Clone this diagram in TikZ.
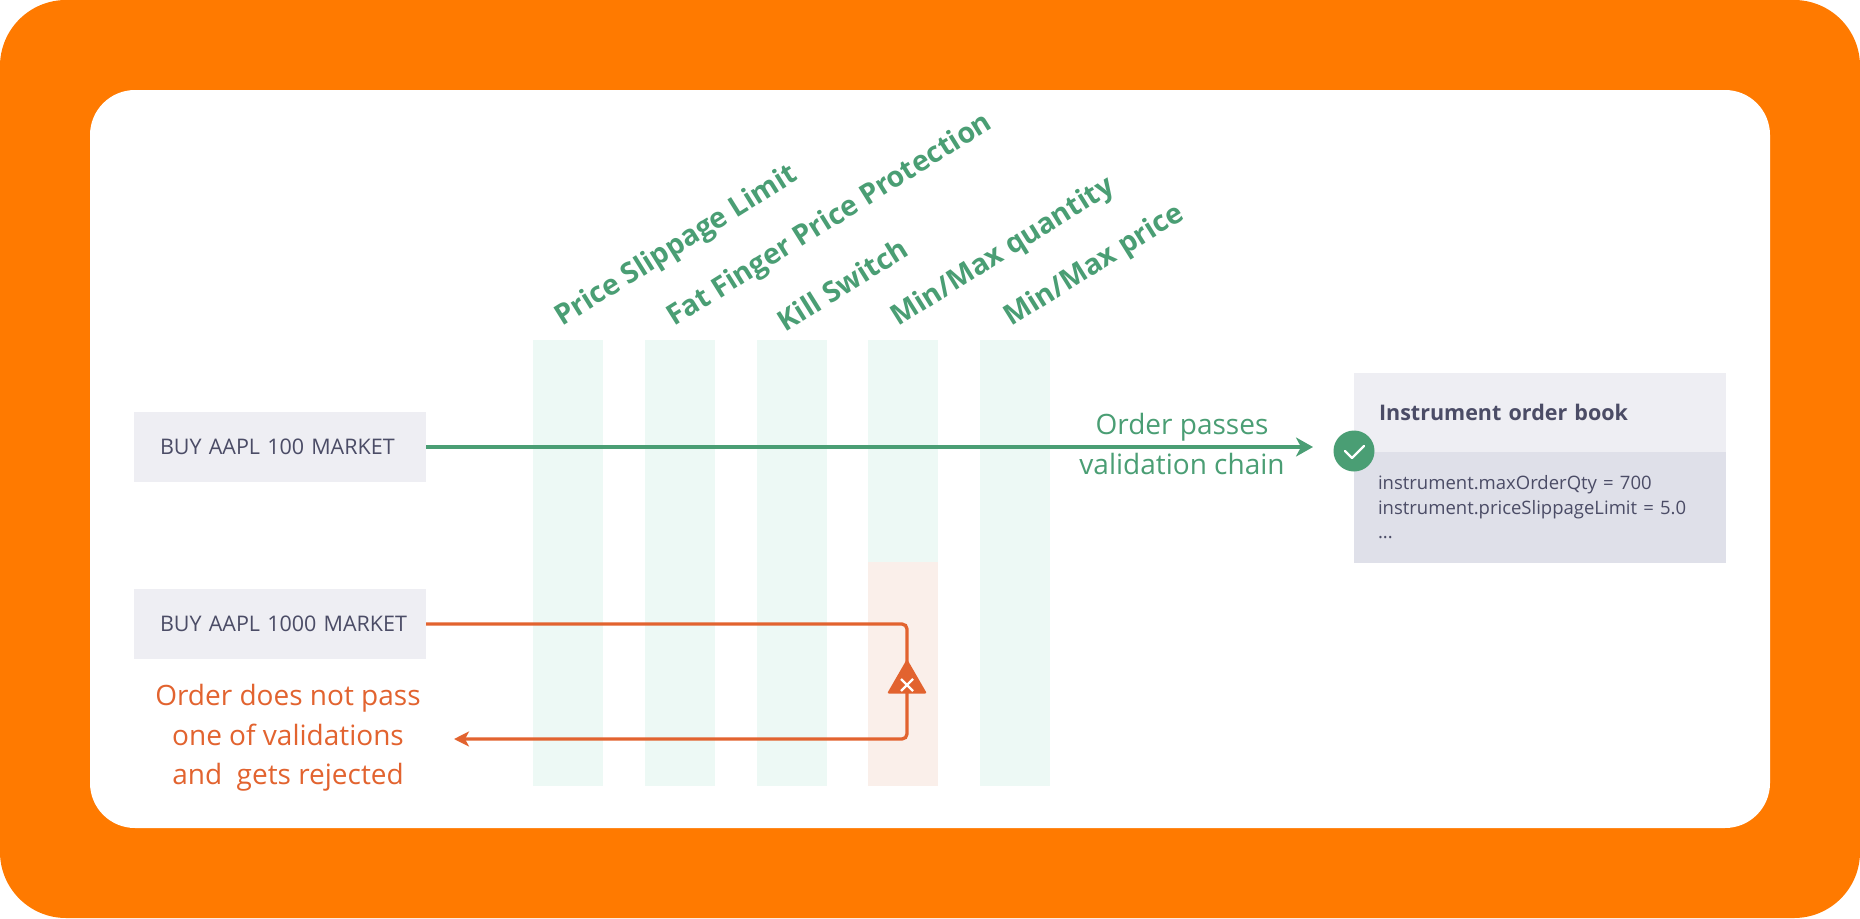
\documentclass[tikz,border=0pt]{standalone}
\usepackage{fontspec}
\setmainfont{Open Sans}
\usetikzlibrary{arrows.meta,shapes.geometric}
\definecolor{frameorange}{HTML}{FF7A00}
\definecolor{passgreen}{HTML}{4A9E74}
\definecolor{failred}{HTML}{E2632F}
\definecolor{columngreen}{HTML}{EDF9F5}
\definecolor{columnred}{HTML}{FAEFEA}
\definecolor{boxlight}{HTML}{EEEEF3}
\definecolor{boxdark}{HTML}{DFE0E9}
\definecolor{boxtext}{HTML}{4B4C66}
\tikzset{
    column/.style={fill=columngreen,minimum width=70pt,minimum height=446pt,inner sep=0pt,anchor=north},
    checkname/.style={text=passgreen,font=\fontsize{28.5}{30}\selectfont\bfseries,rotate=32,anchor=south west,inner sep=0pt},
    order/.style={fill=boxlight,text=boxtext,font=\fontsize{21.5}{24}\selectfont,minimum width=292pt,minimum height=70pt,inner sep=0pt,text width=266pt,align=left,execute at begin node=\hspace*{13pt}},
    passline/.style={passgreen,line width=3.6pt,-{Stealth[length=17pt,width=19pt,inset=5pt]}},
    failline/.style={failred,line width=3.3pt,rounded corners=5pt,-{Stealth[length=15pt,width=15pt,inset=4pt]}},
}
\begin{document}
\begin{tikzpicture}[x=1pt,y=-1pt]
    \useasboundingbox(0,0)rectangle(1860,918);
    \fill[frameorange,rounded corners=66pt](0,0)rectangle(1860,918);
    \fill[white,rounded corners=45pt](90,90)rectangle(1770,828);
    % validation columns
    \node[column](slippage)at(568,340){};
    \node[column](finger)at(680,340){};
    \node[column](kill)at(792,340){};
    \node[column](quantity)at(903,340){};
    \node[column](price)at(1015,340){};
    \node[fill=columnred,minimum width=70pt,minimum height=224pt,inner sep=0pt,anchor=south](failed)at(quantity.south){};
    \node[checkname]at(566,333){Price Slippage Limit};
    \node[checkname]at(678,333){Fat Finger Price Protection};
    \node[checkname]at(786,333){Kill Switch};
    \node[checkname]at(902,333){Min/Max quantity};
    \node[checkname]at(1015,333){Min/Max price};
    % orders
    \node[order](goodorder)at(280,447){BUY AAPL 100 MARKET};
    \node[order](badorder)at(280,624){BUY AAPL 1000 MARKET};
    % order book
    \node[fill=boxlight,text=boxtext,font=\fontsize{21.5}{24}\selectfont\bfseries,minimum width=372pt,minimum height=79pt,inner sep=0pt,text width=322pt,align=left](bookhead)at(1540,412){Instrument order book};
    \node[fill=boxdark,text=boxtext,font=\fontsize{18.5}{24.5}\selectfont,minimum width=372pt,minimum height=111pt,inner sep=0pt,text width=324pt,align=left,anchor=north](bookbody)at(bookhead.south){instrument.maxOrderQty = 700\\instrument.priceSlippageLimit = 5.0\\...};
    \node[circle,fill=passgreen,minimum size=41pt,inner sep=0pt](check)at(1354,451){};
    \draw[white,line width=2.4pt,line cap=round,line join=round](1345,451)--(1352,458)--(1364,446);
    % passing order
    \coordinate(passend)at(1313,447);
    \draw[passline](goodorder.east)--(passend);
    \node[text=passgreen,font=\fontsize{28}{39.5}\selectfont,align=center](passnote)at(1182,444){Order passes\\validation chain};
    % rejected order
    \coordinate(turn)at(907,700);
    \coordinate(rejectend)at(454,739);
    \draw[failline](badorder.east)-|(turn)|-(rejectend);
    \node[regular polygon,regular polygon sides=3,fill=failred,draw=failred,line join=round,line width=2pt,minimum size=42pt,inner sep=0pt](reject)at(907,682){};
    \draw[white,line width=2.4pt](901,679)--(913,691)(913,679)--(901,691);
    \node[text=failred,font=\fontsize{28}{39.5}\selectfont,align=center](failnote)at(288,738){Order does not pass\\one of validations\\and\ \ gets rejected};
\end{tikzpicture}
\end{document}
